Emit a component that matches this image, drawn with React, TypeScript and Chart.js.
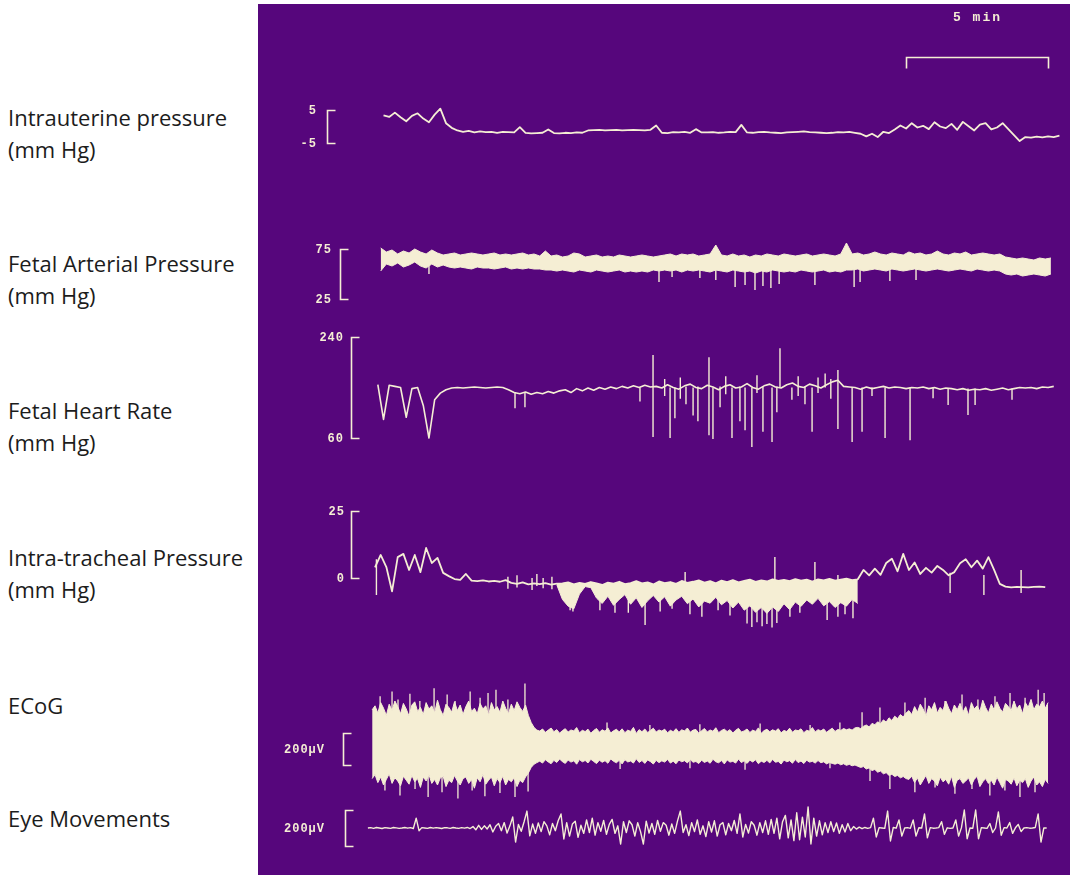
import React, { useEffect, useRef } from "react";
import { Chart, registerables } from "chart.js";

Chart.register(...registerables);

/* ------------------------------------------------------------------ */
/*  Recorded values (time in minutes from the start of the traces)    */
/* ------------------------------------------------------------------ */

const SAMPLE_STEP = 0.2;
const FINE_STEP = 0.1;

// Intrauterine pressure, mm Hg
const UTERINE_START = 0.3;
const UTERINE_MMHG = [
  3.4, 2.9, 4.2, 2.8, 1.6, 3.2, 4.0, 2.4, 1.3, 3.6,
  5.4, 1.0, -0.4, -1.2, -1.6, -1.3, -1.8, -1.5, -1.7, -1.6,
  -1.9, -1.6, -1.7, -1.8, -0.2, -1.9, -2.1, -2.0, -1.9, -0.9,
  -2.0, -2.1, -1.9, -2.0, -1.8, -1.9, -1.2, -1.1, -1.0, -1.2,
  -1.1, -1.0, -1.2, -1.1, -1.0, -1.1, -1.2, -1.0, 0.3, -1.9,
  -2.0, -1.7, -1.8, -1.6, -1.9, -0.8, -1.8, -1.8, -1.7, -1.9,
  -1.8, -1.6, -1.7, 0.5, -1.8, -1.9, -1.7, -1.6, -1.8, -1.9,
  -2.0, -1.8, -1.7, -1.6, -1.5, -1.7, -1.8, -1.9, -2.0, -1.9,
  -1.7, -1.8, -1.6, -1.9, -2.2, -3.0, -2.2, -3.2, -1.6, -2.0,
  -0.9, 0.3, -0.6, 1.0, -0.3, 0.2, -0.8, 1.3, 0.0, -0.5,
  0.8, -1.0, 1.4, 0.1, -1.2, 0.6, 1.0, -0.9, -0.3, 1.0,
  -0.8, -2.6, -4.4, -3.2, -3.4, -3.1, -3.3, -3.0, -3.2, -2.8,
];

// Fetal arterial pressure, mm Hg: upper and lower edge of the pulse band
const ARTERIAL_START = 0.2;
const ARTERIAL_HIGH = [
  76,
  72, 74, 70, 73, 71, 75, 72, 70, 74, 71, 69,
  70, 71, 69, 70, 71, 70, 69, 70, 71, 69, 70, 69, 70, 71, 69, 70, 68,
  73,
  68, 69, 67, 68, 71, 70, 67, 68, 69, 67, 68, 67, 69, 68, 67, 68, 69, 68, 67, 68,
  69, 70, 68, 70, 69, 70, 68, 69, 70,
  79,
  69, 68, 70, 68, 69, 67, 69, 68, 70, 69, 68, 70, 69, 68, 69, 70, 68, 69, 70, 69, 68, 70,
  81,
  70, 71, 69, 70, 72, 70, 69, 71, 70, 69, 72, 70, 71, 69, 70, 73, 70, 69, 71, 70, 72, 69, 70, 71, 70, 69, 70,
  67, 66, 65, 66, 65, 64, 66, 65, 66,
];
const ARTERIAL_LOW = [
  53,
  60, 58, 61, 57, 59, 62, 58, 56, 60, 57, 59,
  57, 56, 57, 56, 55, 57, 56, 56, 55, 56, 57, 55, 56, 55, 56, 55, 55,
  54,
  54, 53, 54, 53, 52, 54, 53, 52, 54, 53, 52, 53, 54, 52, 53, 52, 53, 52, 54, 53,
  54, 53, 54, 52, 54, 53, 54, 53, 52,
  54,
  53, 52, 54, 53, 52, 53, 51, 53, 52, 54, 53, 52, 53, 52, 54, 53, 52, 53, 54, 52, 53, 52,
  54,
  54, 55, 53, 54, 55, 54, 53, 55, 54, 53, 54, 55, 54, 53, 54, 55, 54, 53, 54, 55, 54, 53, 55, 54, 53, 54, 53,
  50, 49, 50, 48, 49, 50, 49, 48, 50,
];
// [time, low, high] of the short pressure transients
const ARTERIAL_SPIKES = [
  [1.9, 50, 58], [10.0, 42, 55], [10.46, 47, 55], [11.44, 46, 55], [12.0, 44, 55],
  [12.68, 37, 55], [13.03, 39, 55], [13.38, 34, 55], [13.66, 38, 55], [13.94, 36, 55],
  [14.23, 40, 55], [15.49, 39, 55], [16.87, 37, 55], [17.08, 42, 55], [18.13, 43, 55],
  [19.05, 44, 55],
];

// Fetal heart rate, beats/min
const HEART_START = 0.1;
const HEART_BPM = [
  155, 93, 154, 152, 150, 97, 148, 150, 118, 60,
  128, 140, 146, 149, 150, 149, 150, 151, 150, 149,
  150, 151, 150, 146, 141, 139, 142, 138, 141, 139,
  143, 140, 144, 146, 141, 148, 144, 149, 145, 150,
  147, 151, 148, 152, 149, 153, 150, 154, 151, 152,
  149, 155, 150, 147, 153, 156, 150, 148, 154, 151,
  146, 152, 155, 149, 151, 157, 150, 147, 153, 156,
  151, 149, 155, 158, 152, 150, 156, 153, 149, 155,
  160, 163, 152, 151, 150, 147, 151, 148, 150, 152,
  149, 151, 150, 148, 150, 149, 151, 148, 150, 147,
  149, 148, 146, 148, 145, 147, 146, 148, 145, 147,
  149, 146, 148, 150, 149, 150, 148, 151, 150, 152,
];
const HEART_SPIKES = [
  [4.93, 113, 142], [5.28, 115, 142], [9.33, 125, 150], [9.79, 62, 208], [10.2, 135, 165],
  [10.39, 60, 150], [10.56, 95, 150], [10.75, 130, 168], [10.95, 120, 152], [11.2, 100, 150],
  [11.37, 90, 152], [11.76, 65, 204], [11.9, 58, 150], [12.15, 115, 152], [12.35, 138, 170],
  [12.57, 60, 150], [12.85, 90, 152], [13.03, 74, 150], [13.27, 44, 150], [13.45, 140, 172],
  [13.66, 71, 152], [13.98, 53, 150], [14.15, 106, 152], [14.26, 150, 220], [14.68, 128, 150],
  [14.9, 135, 170], [15.14, 120, 152], [15.39, 71, 150], [15.6, 140, 168], [15.85, 150, 175],
  [16.05, 130, 165], [16.3, 76, 181], [16.8, 53, 150], [17.15, 71, 150], [17.5, 135, 150],
  [17.96, 60, 150], [18.84, 56, 150], [19.65, 131, 150], [20.18, 119, 149], [20.88, 101, 148],
  [21.13, 119, 148], [22.43, 128, 148],
];

// Intra-tracheal pressure, mm Hg
const TRACHEAL_START = 0;
const TRACHEAL_MMHG = [
  4.0, 8.6, 4.1, -5.0, 7.8, 9.0, 3.0, 8.6, 2.2, 11.2,
  5.6, 7.5, 1.9, 0.7, -0.4, -0.7, 1.5, -1.0, -1.2, -0.9,
  -1.3, -1.1, -1.4, -0.8, -1.8, -2.2, -1.6, -2.4, -2.0, -2.3,
  -1.9, -2.5, -2.1, -2.0, -1.6, -2.4, -1.8, -2.2, -1.5, -2.0,
  -2.6, -1.7, -2.1, -1.4, -2.3, -1.9, -1.2, -2.0, -1.6, -2.4,
  -1.3, -1.9, -1.5, -2.2, -1.1, -1.8, -1.4, -0.9, -1.7, -1.2,
  -2.0, -1.0, -1.5, -0.8, -1.6, -1.1, -0.6, -1.4, -0.9, -1.3,
  -0.5, -1.1, -0.7, -1.2, -0.4, -1.0, -0.6, -1.3, -0.5, -0.9,
  -0.3, -1.0, -0.6, -0.2, -0.8, -0.5, 3.0, 1.0, 3.5, 1.2,
  5.6, 7.2, 2.5, 9.0, 3.0, 5.8, 1.5, 3.8, 2.0, 4.5,
  3.0, 1.0, 2.2, 5.5, 7.0, 4.0, 6.5, 3.5, 7.8, 3.0,
  -2.2, -3.2, -3.5, -3.3, -3.4, -3.5, -3.3, -3.2, -3.4,
];
// lower edge of the breathing-movement band
const TRACHEAL_BAND_START = 6.4;
const TRACHEAL_BAND_LOW = [
  -2.5, -8.0, -10.5, -11.5, -6.0, -3.2, -3.6, -7.5, -9.5, -6.8,
  -10.2, -8.0, -6.2, -9.8, -7.4, -11.0, -8.5, -6.5, -9.0, -7.0,
  -10.5, -8.2, -6.8, -9.6, -7.8, -10.8, -8.6, -9.4, -7.2, -10.0,
  -8.4, -11.2, -9.0, -12.0, -10.4, -12.8, -11.0, -13.2, -10.8, -12.5,
  -9.6, -11.8, -9.0, -10.6, -8.2, -9.8, -7.6, -10.4, -8.8, -11.0,
  -9.2, -10.5, -8.0, -9.5,
];
const TRACHEAL_SPIKES = [
  [0.05, -6.3, 7.0],
  [4.68, -4.0, 0.5], [5.0, -3.5, 1.0], [5.53, -4.5, 0], [5.7, -3.0, 1.5], [5.92, -3.8, 0], [6.23, -4.2, 0.5],
  [6.87, -12.0, -3], [6.97, -12.5, -3], [7.92, -12.0, -3], [8.45, -13.0, -3], [8.92, -13.0, -3],
  [9.51, -17.5, -3], [10.04, -12.5, -3], [10.46, -11.5, -3], [10.92, -3, 2.2], [11.09, -13.5, -3],
  [11.51, -14.5, -3], [12.08, -12.0, -3], [12.5, -14.0, -3],
  [13.1, -17.0, -8], [13.27, -18.3, -8], [13.45, -16.5, -8], [13.63, -18.0, -8], [13.8, -17.2, -8],
  [13.98, -18.5, -8], [14.15, -16.8, -8], [14.08, -2, 7.8], [14.61, -14.5, -6], [14.96, -13.0, -6],
  [15.49, -2, 6.0], [15.92, -15.7, -5], [16.3, -14.5, 1.1], [16.55, -13.5, -6], [16.83, -15.0, -6],
  [20.25, -5.6, 2.0], [21.44, -6.3, 1.1], [22.75, -5.6, 3.0],
];

// ECoG, µV: upper and lower edge of the activity band
const ECOG_START = -0.1;
const ECOG_HIGH = [
  245, 270, 225, 290, 255, 210, 280, 240, 300, 265,
  220, 285, 250, 205, 275, 295, 235, 260, 215, 290,
  250, 270, 225, 305, 245, 210, 280, 260, 230, 295,
  240, 275, 215, 265, 300, 235, 255, 220, 285, 250,
  270, 210, 290, 245, 265, 230, 300, 255, 220, 280,
  240, 295, 260, 235, 275,
  210, 165, 135, 118,
  112, 125, 104, 118, 131, 108, 121, 99, 115, 127,
  106, 119, 113, 134, 101, 117, 109, 124, 98, 116,
  128, 105, 120, 111, 132, 100, 114, 123, 107, 126,
  102, 118, 110, 135, 97, 121, 108, 125, 103, 116,
  130, 106, 119, 112, 124, 101, 117, 108, 127, 104,
  120, 113, 131, 105, 118, 122, 99, 114, 128, 107,
  119, 111, 133, 102, 116, 124, 109, 121, 100, 117,
  129, 106, 113, 125, 103, 118, 110, 132, 98, 115,
  123, 108, 120, 112, 127, 101, 116, 109, 130, 105,
  119, 114, 126, 102, 117, 111, 134, 107, 121, 113,
  125, 104, 118, 130, 110, 122, 116, 128, 120, 126,
  118, 132,
  135, 128, 142, 150, 138, 160, 152, 170, 158, 182, 168, 195, 178, 205, 190, 215, 200, 225,
  240, 215, 265, 230, 280, 250, 205, 270, 245, 290,
  225, 260, 240, 300, 255, 220, 275, 245, 285, 230,
  265, 210, 290, 250, 270, 235, 305, 260, 225, 280,
  245, 295, 255, 230, 285, 265, 240, 300, 250, 275,
  220, 290, 260, 310, 245, 280, 265, 300, 255, 290,
];
const ECOG_LOW = [
  -185, -160, -210, -175, -225, -190, -155, -215, -180, -200,
  -230, -170, -195, -220, -165, -205, -185, -240, -175, -200,
  -160, -215, -190, -225, -180, -170, -235, -195, -210, -165,
  -200, -225, -185, -175, -215, -190, -245, -180, -205, -160,
  -220, -195, -175, -230, -185, -210, -170, -225, -190, -205,
  -180, -235, -195, -210, -175,
  -150, -115, -95, -85,
  -76, -88, -67, -81, -92, -71, -84, -63, -79, -90,
  -69, -82, -74, -95, -66, -80, -72, -87, -64, -78,
  -91, -70, -83, -73, -89, -62, -77, -86, -71, -93,
  -67, -81, -75, -88, -61, -84, -72, -90, -68, -79,
  -94, -71, -85, -74, -82, -65, -88, -76, -92, -69,
  -80, -73, -87, -66, -83, -78, -91, -70, -84, -75,
  -89, -64, -80, -86, -72, -93, -68, -82, -77, -88,
  -63, -85, -74, -90, -70, -81, -67, -92, -76, -84,
  -71, -87, -65, -83, -78, -94, -69, -80, -73, -89,
  -66, -85, -75, -91, -70, -82, -77, -88, -72, -86,
  -80, -93, -84, -90, -95, -88, -99, -92, -102, -96,
  -105, -100,
  -108, -115, -110, -125, -118, -135, -128, -145, -138, -155, -148, -165, -158, -172, -165, -180, -172, -185,
  -190, -170, -210, -180, -225, -195, -165, -215, -185, -200,
  -230, -175, -205, -190, -220, -170, -240, -195, -185, -215,
  -200, -180, -225, -190, -170, -235, -205, -185, -215, -195,
  -225, -175, -210, -245, -190, -200, -220, -180, -230, -195,
  -210, -185, -240, -200, -175, -225, -205, -235, -190, -215,
];
const ECOG_SPIKES = [
  [0.18, 0, 330], [0.6, 0, 360], [0.81, 0, 310], [1.23, 0, 345], [1.58, 0, 300], [2.08, 0, 380],
  [2.54, 0, 340], [2.82, 0, 300], [3.35, 0, 360], [3.7, 0, 320], [3.98, 0, 350], [4.26, 0, 370],
  [4.68, 0, 310], [5.28, 0, 410],
  [0.35, -260, 0], [0.88, -290, 0], [1.41, -250, 0], [1.87, -300, 0], [2.36, -270, 0], [2.92, -310, 0],
  [3.42, -260, 0], [3.87, -295, 0], [4.4, -275, 0], [4.93, -300, 0], [5.39, -265, 0],
  [8.17, 0, 165], [9.68, 0, 150], [11.44, 0, 155], [13.56, 0, 160], [15.32, 0, 150], [16.37, 0, 165],
  [8.63, -125, 0], [11.09, -120, 0], [13.03, -130, 0], [16.02, -120, 0],
  [17.15, 0, 230], [17.78, 0, 260], [18.66, 0, 290], [19.37, 0, 320], [20.07, 0, 300], [20.67, 0, 340],
  [21.23, 0, 310], [21.83, 0, 330], [22.36, 0, 350], [22.89, 0, 320], [23.35, 0, 370], [23.56, 0, 350],
  [17.43, -200, 0], [18.13, -250, 0], [19.01, -270, 0], [19.72, -240, 0], [20.42, -280, 0],
  [21.02, -250, 0], [21.65, -290, 0], [22.18, -260, 0], [22.71, -300, 0], [23.24, -270, 0],
];

// Eye movements (EOG), µV
const EYE_START = -0.25;
const EYE_UV = [
  0, 2, -2, 3, 0, -3, 2, 0, -2, 3, 1, -2, 0, 3, -1, 2, -3, 55, -15, 2,
  0, -2, 3, -1, 2, 0, -3, 2, 1, -2, 3, 0, -2, 2, -1, 3, -3, 8, -10, 15,
  -8, 12, -5, 18, -22, 10, 25, -15, 30, -28, 12, 61, -78, 20, -18, 35, 94, -44, 22, -30,
  28, -20, 35, 12, -38, 25, -15, 40, 78, -61, 30, -45, 22, 38, -52, 15, -30, 45, -25, 55,
  -40, 30, -18, 42, -35, 20, 48, -30, 12, -89, 35, -25, 40, 18, -45, 30, -20, -89, 38, -28,
  25, -35, 42, -18, 30, 15, -40, 22, -30, 38, 94, -25, 18, -42, 30, -20, 45, -35, 12, -48,
  35, -22, 40, -45, 18, 30, -38, 25, -15, 42, -30, 78, -50, 20, -28, 35, 15, -40, 30, -25,
  40, -35, 48, -30, 55, -60, 35, 70, -55, 45, -70, 85, -65, 60, -50, 117, -89, 55, -45, 40,
  -38, 30, -25, 35, -20, 28, -30, 18, -22, 25, -15, 8, -6, 5, -4, 3, -2, 2, 55, -50,
  2, 0, -2, 94, -72, 3, -1, 45, -45, 0, 2, -2, 45, -45, 1, 0, 78, -55, 2, -1,
  0, 2, 35, -35, 1, -2, 0, 45, -45, 2, 100, -60, 0, -1, 100, -60, 2, 0, -2, 25,
  -25, 0, 89, -40, 2, 0, 30, -30, 1, 20, -20, 0, 2, -1, 0, 3, 78, -78, 0, 0,
];

/* ------------------------------------------------------------------ */
/*  Text                                                              */
/* ------------------------------------------------------------------ */

const TRACE_TITLES = [
  ["Intrauterine pressure", "(mm Hg)"],
  ["Fetal Arterial Pressure", "(mm Hg)"],
  ["Fetal Heart Rate", "(mm Hg)"],
  ["Intra-tracheal Pressure", "(mm Hg)"],
  ["ECoG"],
  ["Eye Movements"],
];
// calibration marks: [upper value, lower value] and their printed labels
const CAL_VALUES = [[5, -5], [75, 25], [240, 60], [25, 0], [100, -100], [100, -100]];
const CAL_LABELS = [["5", "-5"], ["75", "25"], ["240", "60"], ["25", "0"], ["200µV"], ["200µV"]];
const TIME_BAR_MINUTES = 5;
const TIME_BAR_START = 18.7;
const TIME_BAR_LABEL = "5 min";

/* ------------------------------------------------------------------ */
/*  Layout                                                            */
/* ------------------------------------------------------------------ */

const PANEL = { left: 258, top: 4, width: 812, height: 871 };
const PANEL_COLOR = "#56067c";
const INK = "#f5eed4";
const TIME_ORIGIN_PX = 375; // page x of t = 0
const PX_PER_MIN = 28.4;
const TITLE_TOPS = [101, 247, 394, 541, 689, 802];
const AXIS_IDS = ["yUterine", "yArterial", "yHeart", "yTracheal", "yEcog", "yEye"];
// page y of the upper / lower calibration value, bracket x, right edge of its label
const TRACK_LAYOUT = [
  { hiPx: 110, loPx: 143, bracketX: 327, labelRight: 317 },
  { hiPx: 249, loPx: 299, bracketX: 340, labelRight: 332 },
  { hiPx: 337, loPx: 438, bracketX: 351, labelRight: 344 },
  { hiPx: 511, loPx: 578, bracketX: 351, labelRight: 345 },
  { hiPx: 733, loPx: 765, bracketX: 343, labelRight: 325 },
  { hiPx: 810, loPx: 846, bracketX: 345, labelRight: 325 },
];
const TIME_BAR_Y = 57;
const TIME_LABEL_Y = 18;

/* ------------------------------------------------------------------ */

type Pt = { x: number; y: number | null };

const series = (t0: number, step: number, values: number[]): Pt[] =>
  values.map((y, i) => ({ x: t0 + i * step, y }));

// each transient becomes its own vertical stroke
const strokes = (list: number[][]): Pt[] =>
  list.flatMap(([t, lo, hi]) => [
    { x: t, y: lo },
    { x: t, y: hi },
    { x: t, y: null },
  ]);

function axisRange(hi: number, lo: number, hiPx: number, loPx: number) {
  const a = hiPx - PANEL.top;
  const b = loPx - PANEL.top;
  const k = (b - a) / (hi - lo);
  return { min: lo - (PANEL.height - b) / k, max: hi + a / k };
}

const recorderPlugin = {
  id: "recorderPanel",
  beforeDraw(chart: any) {
    const { ctx, width, height } = chart;
    ctx.save();
    ctx.fillStyle = PANEL_COLOR;
    ctx.fillRect(0, 0, width, height);
    ctx.restore();
  },
  afterDraw(chart: any) {
    const { ctx } = chart;
    ctx.save();
    ctx.strokeStyle = INK;
    ctx.fillStyle = INK;
    ctx.lineWidth = 1.6;
    ctx.font = 'bold 12px "Liberation Mono", "DejaVu Sans Mono", monospace';
    ctx.letterSpacing = "1px";
    ctx.textBaseline = "middle";

    TRACK_LAYOUT.forEach((lay, i) => {
      const scale = chart.scales[AXIS_IDS[i]];
      const [hi, lo] = CAL_VALUES[i];
      const yTop = Math.round(scale.getPixelForValue(hi)) + 0.5;
      const yBot = Math.round(scale.getPixelForValue(lo)) + 0.5;
      const x = lay.bracketX - PANEL.left + 0.5;
      ctx.beginPath();
      ctx.moveTo(x + 8, yTop);
      ctx.lineTo(x, yTop);
      ctx.lineTo(x, yBot);
      ctx.lineTo(x + 8, yBot);
      ctx.stroke();
      ctx.textAlign = "right";
      const labels = CAL_LABELS[i];
      const lx = lay.labelRight - PANEL.left;
      if (labels.length === 2) {
        ctx.fillText(labels[0], lx, yTop);
        ctx.fillText(labels[1], lx, yBot);
      } else {
        ctx.fillText(labels[0], lx, (yTop + yBot) / 2);
      }
    });

    const xs = chart.scales.x;
    const x0 = Math.round(xs.getPixelForValue(TIME_BAR_START)) + 0.5;
    const x1 = Math.round(xs.getPixelForValue(TIME_BAR_START + TIME_BAR_MINUTES)) + 0.5;
    const yb = TIME_BAR_Y - PANEL.top + 0.5;
    ctx.beginPath();
    ctx.moveTo(x0, yb + 11);
    ctx.lineTo(x0, yb);
    ctx.lineTo(x1, yb);
    ctx.lineTo(x1, yb + 11);
    ctx.stroke();
    ctx.textAlign = "center";
    ctx.letterSpacing = "2px";
    ctx.font = 'bold 13px "Liberation Mono", "DejaVu Sans Mono", monospace';
    ctx.fillText(TIME_BAR_LABEL, (x0 + x1) / 2, TIME_LABEL_Y - PANEL.top);
    ctx.restore();
  },
};

function buildConfig(): any {
  const trace = (axis: string, data: Pt[], width: number, extra: any = {}) => ({
    type: "line",
    yAxisID: axis,
    data,
    borderColor: INK,
    backgroundColor: INK,
    borderWidth: width,
    pointRadius: 0,
    pointHoverRadius: 0,
    tension: 0,
    fill: false,
    spanGaps: false,
    borderJoinStyle: "round",
    ...extra,
  });

  const datasets = [
    trace("yUterine", series(UTERINE_START, SAMPLE_STEP, UTERINE_MMHG), 1.8),
    trace("yArterial", series(ARTERIAL_START, SAMPLE_STEP, ARTERIAL_HIGH), 1),
    trace("yArterial", series(ARTERIAL_START, SAMPLE_STEP, ARTERIAL_LOW), 1, { fill: "-1" }),
    trace("yArterial", strokes(ARTERIAL_SPIKES), 1.4),
    trace("yHeart", series(HEART_START, SAMPLE_STEP, HEART_BPM), 1.6),
    trace("yHeart", strokes(HEART_SPIKES), 1.4),
    trace("yTracheal", series(TRACHEAL_START, SAMPLE_STEP, TRACHEAL_MMHG), 1.8),
    trace("yTracheal", series(TRACHEAL_BAND_START, SAMPLE_STEP, TRACHEAL_BAND_LOW), 1, { fill: "-1" }),
    trace("yTracheal", strokes(TRACHEAL_SPIKES), 1.4),
    trace("yEcog", series(ECOG_START, FINE_STEP, ECOG_HIGH), 1),
    trace("yEcog", series(ECOG_START, FINE_STEP, ECOG_LOW), 1, { fill: "-1" }),
    trace("yEcog", strokes(ECOG_SPIKES), 1.3),
    trace("yEye", series(EYE_START, FINE_STEP, EYE_UV), 1.4),
  ];

  const scales: any = {
    x: {
      type: "linear",
      display: false,
      bounds: "data",
      offset: false,
      min: (PANEL.left - TIME_ORIGIN_PX) / PX_PER_MIN,
      max: (PANEL.left + PANEL.width - TIME_ORIGIN_PX) / PX_PER_MIN,
    },
  };
  AXIS_IDS.forEach((id, i) => {
    const lay = TRACK_LAYOUT[i];
    const [hi, lo] = CAL_VALUES[i];
    scales[id] = {
      type: "linear",
      display: false,
      bounds: "data",
      ...axisRange(hi, lo, lay.hiPx, lay.loPx),
    };
  });

  return {
    type: "line",
    data: { datasets },
    options: {
      responsive: false,
      animation: false,
      devicePixelRatio: 1,
      events: [],
      layout: { padding: 0 },
      plugins: {
        legend: { display: false },
        tooltip: { enabled: false },
        title: { display: false },
      },
      scales,
    },
    plugins: [recorderPlugin],
  };
}

export default function App() {
  const canvasRef = useRef<HTMLCanvasElement | null>(null);

  useEffect(() => {
    if (!canvasRef.current) return;
    const chart = new Chart(canvasRef.current, buildConfig());
    return () => chart.destroy();
  }, []);

  return (
    <div
      style={{
        position: "absolute",
        left: 0,
        top: 0,
        width: 1070,
        height: 875,
        background: "#ffffff",
        overflow: "hidden",
      }}
    >
      {TRACE_TITLES.map((lines, i) => (
        <div
          key={i}
          style={{
            position: "absolute",
            left: 8,
            top: TITLE_TOPS[i],
            fontFamily: '"Open Sans", "Noto Sans", sans-serif',
            fontSize: 22,
            lineHeight: "32px",
            color: "#1c1c1c",
            whiteSpace: "nowrap",
          }}
        >
          {lines.map((line, j) => (
            <div key={j}>{line}</div>
          ))}
        </div>
      ))}
      <canvas
        ref={canvasRef}
        width={PANEL.width}
        height={PANEL.height}
        style={{
          position: "absolute",
          left: PANEL.left,
          top: PANEL.top,
          width: PANEL.width,
          height: PANEL.height,
        }}
      />
    </div>
  );
}
